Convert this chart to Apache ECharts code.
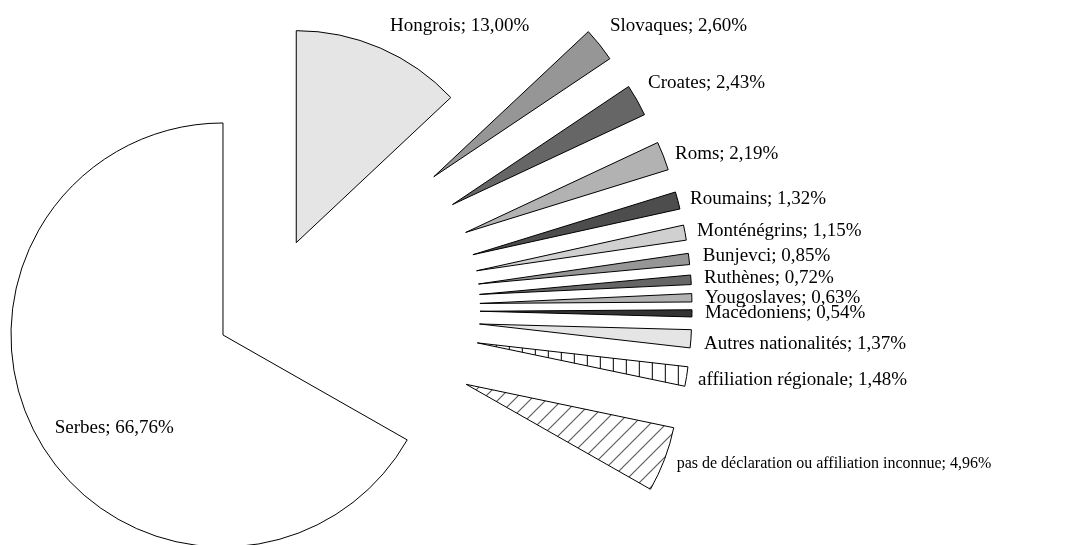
<!DOCTYPE html>
<html>
<head>
<meta charset="utf-8">
<script src="https://cdn.jsdelivr.net/npm/echarts@6/dist/echarts.min.js"></script>
<style>
html,body{margin:0;padding:0;background:#fff;}
#chart{width:1071px;height:545px;}
</style>
</head>
<body>
<div id="chart"></div>
<script>
// ---- data ----
const categories = ['Hongrois','Slovaques','Croates','Roms','Roumains','Monténégrins','Bunjevci','Ruthènes','Yougoslaves','Macédoniens','Autres nationalités','affiliation régionale','pas de déclaration ou affiliation inconnue','Serbes'];
const values = [13.00, 2.60, 2.43, 2.19, 1.32, 1.15, 0.85, 0.72, 0.63, 0.54, 1.37, 1.48, 4.96, 66.76];

// ---- styles ----
const fills = ['#e5e5e5','#969696','#666666','#b2b2b2','#4d4d4d','#d0d0d0','#969696','#666666','#b2b2b2','#333333','#e5e5e5','vertical','diagonal','#ffffff'];
const explode = [72.4, 212.5, 212.5, 212.5, 212.5, 212.5, 212.5, 212.5, 212.5, 212.5, 212.5, 212.5, 212.5, 51.5];
// label guide lengths [length, length2] (label line hidden, only used to place text)
const labelGuide = [[24,0],[30.5,-13.6],[35.2,-19.7],[6.4,5.6],[4.7,7.6],[6.7,5.4],[25.4,-11.5],[27.5,-14.4],[7.5,5.6],[0,13],[68.7,-55.5],[23.3,-11.6],[12.7,0.3],[-27.7,-110.3]];
const labelSizes = [19,19,19,19,19,19,19,19,19,19,19,19,16,19];

function makePattern(kind){
  const c = document.createElement('canvas');
  const ctx = c.getContext('2d');
  if (kind === 'vertical') {
    c.width = 13; c.height = 4;
    ctx.fillStyle = '#fff'; ctx.fillRect(0,0,13,4);
    ctx.strokeStyle = '#000'; ctx.lineWidth = 1;
    ctx.beginPath(); ctx.moveTo(0.5,0); ctx.lineTo(0.5,4); ctx.stroke();
  } else {
    const s = 16;
    c.width = s; c.height = s;
    ctx.fillStyle = '#fff'; ctx.fillRect(0,0,s,s);
    ctx.strokeStyle = '#000'; ctx.lineWidth = 1;
    ctx.beginPath();
    ctx.moveTo(0,s); ctx.lineTo(s,0);
    ctx.moveTo(-2,2); ctx.lineTo(2,-2);
    ctx.moveTo(s-2,s+2); ctx.lineTo(s+2,s-2);
    ctx.stroke();
  }
  return {image: c, repeat: 'repeat'};
}
function fillOf(f){ return (f === 'vertical' || f === 'diagonal') ? makePattern(f) : f; }

const fmt = v => v.toFixed(2).replace('.', ',') + '%';

const offsets = [...new Set(explode)];
const series = offsets.map(off => ({
  type: 'pie',
  center: [267.5, 309.1],
  radius: 212,
  startAngle: 90,
  clockwise: true,
  selectedMode: 'multiple',
  selectedOffset: off,
  avoidLabelOverlap: false,
  labelLayout: {hideOverlap: false},
  silent: true,
  animation: false,
  emphasis: {disabled: true},
  label: {
    show: true,
    position: 'outside',
    alignTo: 'none',
    distanceToLabelLine: 0,
    fontFamily: '"Liberation Serif", "DejaVu Serif", serif',
    fontSize: 19,
    color: '#000',
    formatter: p => p.name + '; ' + fmt(p.value)
  },
  labelLine: {show: false},
  data: categories.map((name, i) => {
    const visible = explode[i] === off;
    const style = visible
      ? {color: fillOf(fills[i]), borderColor: '#000', borderWidth: 1}
      : {color: 'rgba(0,0,0,0)', borderWidth: 0, borderColor: 'rgba(0,0,0,0)'};
    return {
      name: name,
      value: values[i],
      selected: true,
      itemStyle: style,
      select: {itemStyle: style},
      label: visible ? {show: true, fontSize: labelSizes[i]} : {show: false},
      labelLine: {show: false, length: labelGuide[i][0], length2: labelGuide[i][1]}
    };
  })
}));

const chart = echarts.init(document.getElementById('chart'), null, {renderer: 'canvas'});
chart.setOption({
  backgroundColor: '#ffffff',
  animation: false,
  series: series
});
</script>
</body>
</html>
